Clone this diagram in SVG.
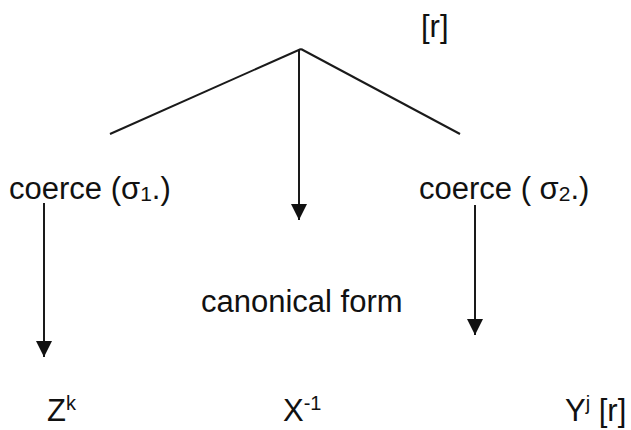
<svg xmlns="http://www.w3.org/2000/svg" width="631" height="430" viewBox="0 0 631 430">
<defs>
<style>
text{font-family:"Liberation Sans",Arial,sans-serif;font-size:31px;fill:#111}
.sub{font-size:21px}
.sup{font-size:20px}
.ln{stroke:#1a1a1a;stroke-width:2;fill:none}
</style>
<marker id="ah" viewBox="0 0 16 16" refX="16" refY="8" markerWidth="16" markerHeight="16" markerUnits="userSpaceOnUse" orient="auto">
<path d="M0,0 L16,8 L0,16 Z" fill="#111"/>
</marker>
</defs>
<rect width="631" height="430" fill="#fff"/>
<g id="connectors">
<line class="ln" x1="301" y1="49" x2="110" y2="134"/>
<line class="ln" x1="301" y1="49" x2="460" y2="134"/>
<line class="ln" x1="299" y1="49" x2="299" y2="220" marker-end="url(#ah)"/>
<line class="ln" x1="44" y1="203" x2="44" y2="357" marker-end="url(#ah)"/>
<line class="ln" x1="475" y1="205" x2="475" y2="335" marker-end="url(#ah)"/>
</g>
<g id="top-r"><text x="421" y="37">[r]</text></g>
<g id="coerce1"><text x="9" y="199">coerce (σ<tspan class="sub" dy="2">1</tspan><tspan dy="-2">.)</tspan></text></g>
<g id="coerce2"><text x="419" y="199">coerce ( σ<tspan class="sub" dy="2">2</tspan><tspan dy="-2">.)</tspan></text></g>
<g id="canonical"><text x="201" y="312">canonical form</text></g>
<g id="zk"><text x="47" y="421">Z<tspan class="sup" dy="-11">k</tspan></text></g>
<g id="x-1"><text x="283" y="421">X<tspan class="sup" dy="-11">-1</tspan></text></g>
<g id="yj"><text x="565" y="421">Y<tspan class="sup" dy="-11">j</tspan><tspan dy="11"> [r]</tspan></text></g>
</svg>
